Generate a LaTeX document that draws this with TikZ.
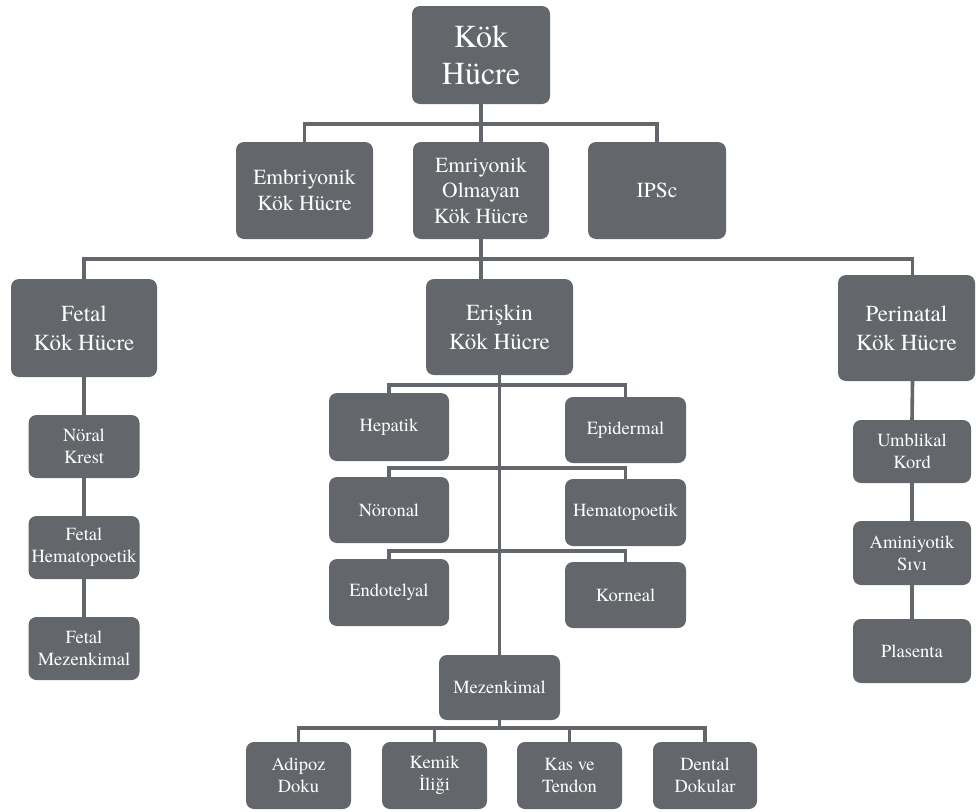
\documentclass[tikz,border=0pt]{standalone}
\usepackage{fontspec}
\setmainfont{TeX Gyre Termes}
\definecolor{boxgray}{HTML}{63676B}
\tikzset{
  box/.style={fill=boxgray, rounded corners=8pt, text=white, align=center, inner sep=0pt, draw=none},
  tbig/.style={box, font=\fontsize{32}{37}\selectfont},
  tlev/.style={box, font=\fontsize{21.5}{25.5}\selectfont},
  tmid/.style={box, font=\fontsize{23}{29}\selectfont},
  tsmall/.style={box, font=\fontsize{18.5}{21.7}\selectfont},
  conn/.style={draw=boxgray, line width=3.6pt}
}
\begin{document}
\begin{tikzpicture}[x=1pt,y=-1pt]
\useasboundingbox (0,0) rectangle (976,811);
% level 0
\node[tbig, minimum width=138pt, minimum height=98pt] (top) at (481,55) {Kök\\Hücre};
% level 1
\node[tlev, minimum width=137pt, minimum height=97pt] (emb) at (304.5,190.5) {Embriyonik\\Kök Hücre};
\node[tlev, minimum width=136pt, minimum height=97pt] (emo) at (481,190.5) {Emriyonik\\Olmayan\\Kök Hücre};
\node[tlev, minimum width=138pt, minimum height=97pt] (ips) at (657,190.5) {IPSc};
% level 2
\node[tmid, minimum width=146pt, minimum height=98pt] (fetal) at (84,328) {Fetal\\Kök Hücre};
\node[tmid, minimum width=147pt, minimum height=96pt] (erisk) at (499.5,327) {Erişkin\\Kök Hücre};
\node[tmid, minimum width=137pt, minimum height=106pt] (perin) at (906.5,328) {Perinatal\\Kök Hücre};
% fetal children
\node[tsmall, minimum width=111pt, minimum height=63pt] (noral) at (84,446.5) {Nöral\\Krest};
\node[tsmall, minimum width=111pt, minimum height=63pt] (fhem) at (84,547.5) {Fetal\\Hematopoetik};
\node[tsmall, minimum width=111pt, minimum height=63pt] (fmez) at (84,648.5) {Fetal\\Mezenkimal};
% perinatal children
\node[tsmall, minimum width=118pt, minimum height=63pt] (umb) at (912,451.5) {Umblikal\\Kord};
\node[tsmall, minimum width=118pt, minimum height=64pt] (amin) at (912,553) {Aminiyotik\\Sıvı};
\node[tsmall, minimum width=118pt, minimum height=64pt] (plas) at (912,651) {Plasenta};
% adult children
\node[tsmall, minimum width=120pt, minimum height=68pt] (hep) at (389,427) {Hepatik};
\node[tsmall, minimum width=121pt, minimum height=66pt] (epi) at (625.5,430) {Epidermal};
\node[tsmall, minimum width=120pt, minimum height=66pt] (nor) at (389,510) {Nöronal};
\node[tsmall, minimum width=121pt, minimum height=67pt] (hem) at (625.5,512.5) {Hematopoetik};
\node[tsmall, minimum width=120pt, minimum height=67pt] (endo) at (389,592.5) {Endotelyal};
\node[tsmall, minimum width=121pt, minimum height=66pt] (korn) at (625.5,595) {Korneal};
\node[tsmall, minimum width=121pt, minimum height=65pt] (mez) at (499.5,687.5) {Mezenkimal};
% mesenchymal children
\node[tsmall, minimum width=105pt, minimum height=67pt] (adi) at (298.5,775.5) {Adipoz\\Doku};
\node[tsmall, minimum width=105pt, minimum height=67pt] (kem) at (434.5,775.5) {Kemik\\İliği};
\node[tsmall, minimum width=105pt, minimum height=67pt] (kas) at (569.5,775.5) {Kas ve\\Tendon};
\node[tsmall, minimum width=104pt, minimum height=67pt] (den) at (705,775.5) {Dental\\Dokular};
% connectors
\draw[conn] (top.south) -- (emo.north);
\draw[conn] (emb.north) -- ++(0,-18) -| (ips.north);
\draw[conn] (emo.south) -- (emo.south |- erisk.north);
\draw[conn] (fetal.north) -- ++(0,-20) -| ([xshift=6pt]perin.north);
\draw[conn] (fetal.south) -- (fetal.south |- noral.north);
\draw[conn] (noral.south) -- (fhem.north);
\draw[conn] (fhem.south) -- (fmez.north);
\draw[conn] ([xshift=6pt]perin.south) -- (umb.north);
\draw[conn] (umb.south) -- (amin.north);
\draw[conn] (amin.south) -- (plas.north);
\draw[conn] (erisk.south) -- (erisk.south |- mez.north);
\draw[conn] (hep.north) -- ++(0,-8) -| (epi.north);
\draw[conn] (nor.north) -- ++(0,-9) -| (hem.north);
\draw[conn] (endo.north) -- ++(0,-8) -| (korn.north);
\draw[conn] (mez.south) -- ++(0,8);
\draw[conn] (adi.north) -- ++(0,-14) -| (den.north);
\draw[conn] (kem.north) -- ++(0,-14);
\draw[conn] (kas.north) -- ++(0,-14);
\end{tikzpicture}
\end{document}
